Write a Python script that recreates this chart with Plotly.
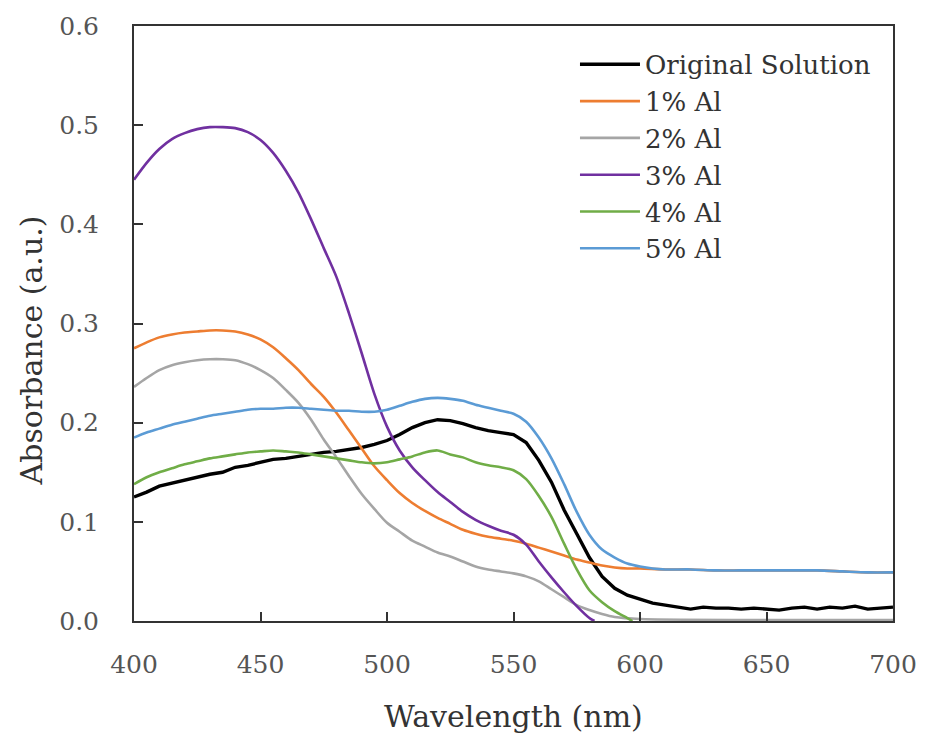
import plotly.graph_objects as go

# ---------------- data ----------------
wl_orig = [400, 405, 410, 415, 420, 425, 430, 435, 440, 445, 450, 455, 460, 465, 470, 475, 480,
           485, 490, 495, 500, 505, 510, 515, 520, 525, 530, 535, 540, 545, 550, 555, 560, 565,
           570, 575, 580, 585, 590, 595, 600, 605, 610, 615, 620, 625, 630, 635, 640, 645, 650,
           655, 660, 665, 670, 675, 680, 685, 690, 695, 700]
abs_orig = [0.125, 0.130, 0.136, 0.139, 0.142, 0.145, 0.148, 0.150, 0.155, 0.157, 0.160, 0.163,
            0.164, 0.166, 0.168, 0.170, 0.171, 0.173, 0.175, 0.178, 0.182, 0.188, 0.195, 0.200,
            0.203, 0.202, 0.199, 0.195, 0.192, 0.190, 0.188, 0.180, 0.162, 0.140, 0.112, 0.088,
            0.064, 0.045, 0.033, 0.026, 0.022, 0.018, 0.016, 0.014, 0.012, 0.014, 0.013, 0.013,
            0.012, 0.013, 0.012, 0.011, 0.013, 0.014, 0.012, 0.014, 0.013, 0.015, 0.012, 0.013,
            0.014]

wl_1 = [400, 405, 410, 415, 420, 425, 430, 435, 440, 445, 450, 455, 460, 465, 470, 475, 480, 485,
        490, 495, 500, 505, 510, 515, 520, 525, 530, 535, 540, 545, 550, 555, 560, 565, 570, 575,
        580, 585, 590, 595, 600, 610, 620, 630, 640, 650, 660, 670, 680, 690, 700]
abs_1 = [0.275, 0.281, 0.286, 0.289, 0.291, 0.292, 0.293, 0.293, 0.292, 0.289, 0.284, 0.276,
         0.265, 0.253, 0.239, 0.226, 0.210, 0.192, 0.174, 0.156, 0.142, 0.129, 0.119, 0.111,
         0.104, 0.098, 0.092, 0.088, 0.085, 0.083, 0.081, 0.078, 0.074, 0.070, 0.066, 0.062,
         0.059, 0.056, 0.054, 0.053, 0.053, 0.052, 0.052, 0.051, 0.051, 0.051, 0.051, 0.051,
         0.050, 0.049, 0.049]

wl_2 = [400, 405, 410, 415, 420, 425, 430, 435, 440, 445, 450, 455, 460, 465, 470, 475, 480, 485,
        490, 495, 500, 505, 510, 515, 520, 525, 530, 535, 540, 545, 550, 555, 560, 565, 570, 575,
        580, 585, 590, 600, 650, 700]
abs_2 = [0.236, 0.245, 0.253, 0.258, 0.261, 0.263, 0.264, 0.264, 0.263, 0.259, 0.253, 0.245,
         0.233, 0.220, 0.203, 0.183, 0.165, 0.146, 0.128, 0.113, 0.099, 0.090, 0.081, 0.075,
         0.069, 0.065, 0.060, 0.055, 0.052, 0.050, 0.048, 0.045, 0.040, 0.032, 0.024, 0.016,
         0.011, 0.007, 0.004, 0.002, 0.001, 0.001]

wl_3 = [400, 405, 410, 415, 420, 425, 430, 435, 440, 445, 450, 455, 460, 465, 470, 475, 480, 485,
        490, 495, 500, 505, 510, 515, 520, 525, 530, 535, 540, 545, 550, 555, 560, 565, 570, 575,
        580, 582]
abs_3 = [0.445, 0.462, 0.476, 0.486, 0.492, 0.496, 0.498, 0.498, 0.497, 0.493, 0.485, 0.472,
         0.454, 0.432, 0.405, 0.376, 0.347, 0.310, 0.270, 0.229, 0.196, 0.172, 0.155, 0.142,
         0.130, 0.120, 0.110, 0.102, 0.096, 0.091, 0.087, 0.077, 0.060, 0.044, 0.029, 0.015,
         0.003, 0.0]

wl_4 = [400, 405, 410, 415, 420, 425, 430, 435, 440, 445, 450, 455, 460, 465, 470, 475, 480, 485,
        490, 495, 500, 505, 510, 515, 520, 525, 530, 535, 540, 545, 550, 555, 560, 565, 570, 575,
        580, 585, 590, 595, 597]
abs_4 = [0.138, 0.145, 0.150, 0.154, 0.158, 0.161, 0.164, 0.166, 0.168, 0.170, 0.171, 0.172,
         0.171, 0.170, 0.168, 0.166, 0.164, 0.162, 0.160, 0.159, 0.160, 0.163, 0.166, 0.170,
         0.172, 0.168, 0.165, 0.160, 0.157, 0.155, 0.152, 0.143, 0.126, 0.105, 0.078, 0.052,
         0.031, 0.019, 0.010, 0.003, 0.0]

wl_5 = [400, 405, 410, 415, 420, 425, 430, 435, 440, 445, 450, 455, 460, 465, 470, 475, 480, 485,
        490, 495, 500, 505, 510, 515, 520, 525, 530, 535, 540, 545, 550, 555, 560, 565, 570, 575,
        580, 585, 590, 595, 600, 605, 610, 620, 630, 640, 650, 660, 670, 680, 690, 700]
abs_5 = [0.185, 0.190, 0.194, 0.198, 0.201, 0.204, 0.207, 0.209, 0.211, 0.213, 0.214, 0.214,
         0.215, 0.215, 0.214, 0.213, 0.212, 0.212, 0.211, 0.211, 0.213, 0.217, 0.221, 0.224,
         0.225, 0.224, 0.222, 0.218, 0.215, 0.212, 0.209, 0.201, 0.185, 0.164, 0.138, 0.110,
         0.087, 0.072, 0.064, 0.058, 0.055, 0.053, 0.052, 0.052, 0.051, 0.051, 0.051, 0.051,
         0.051, 0.050, 0.049, 0.049]

series = [
    ("Original Solution", wl_orig, abs_orig, "#000000", 3.4, "linear"),
    ("1% Al", wl_1, abs_1, "#ED7D31", 2.6, "spline"),
    ("2% Al", wl_2, abs_2, "#A5A5A5", 2.6, "spline"),
    ("3% Al", wl_3, abs_3, "#7030A0", 2.6, "spline"),
    ("4% Al", wl_4, abs_4, "#70AD47", 2.6, "spline"),
    ("5% Al", wl_5, abs_5, "#5B9BD5", 2.6, "spline"),
]

x_ticks = [400, 450, 500, 550, 600, 650, 700]
y_ticks = [0.0, 0.1, 0.2, 0.3, 0.4, 0.5, 0.6]
x_tick_text = ["400", "450", "500", "550", "600", "650", "700"]
y_tick_text = ["0.0", "0.1", "0.2", "0.3", "0.4", "0.5", "0.6"]

FONT = "DejaVu Serif"

fig = go.Figure()
for i, (name, x, y, c, w, shape) in enumerate(series):
    fig.add_trace(go.Scatter(
        x=x, y=y, mode="lines", name=name,
        line=dict(color=c, width=w, shape=shape, smoothing=0.8 if shape == "spline" else None),
        legendgroup=str(i), legendrank=i + 1,
    ))

fig.update_layout(
    width=929, height=746,
    margin=dict(l=134, r=30, t=22, b=125),
    paper_bgcolor="white", plot_bgcolor="white",
    font=dict(family=FONT, color="#333333"),
    showlegend=True,
    legend=dict(
        x=0.581, y=0.975, xanchor="left", yanchor="top",
        bgcolor="rgba(0,0,0,0)", font=dict(family=FONT, size=26, color="#333333"),
        tracegroupgap=0, itemwidth=60,
    ),
    xaxis=dict(
        range=[400, 700], tickvals=x_ticks, ticktext=x_tick_text,
        ticks="inside", ticklen=9, tickwidth=1.6, tickcolor="#333333",
        showline=True, linewidth=2, linecolor="#333333", mirror=True,
        showgrid=False, zeroline=False,
        tickfont=dict(family=FONT, size=25, color="#555555"),
        ticklabelstandoff=20,
    ),
    yaxis=dict(
        range=[0, 0.6], tickvals=y_ticks, ticktext=y_tick_text,
        ticks="inside", ticklen=9, tickwidth=1.6, tickcolor="#333333",
        showline=True, linewidth=2, linecolor="#333333", mirror=True,
        showgrid=False, zeroline=False,
        tickfont=dict(family=FONT, size=25, color="#555555"),
        ticklabelstandoff=28,
    ),
    annotations=[
        dict(text="Wavelength (nm)", xref="paper", yref="paper", x=0.5, y=-0.160,
             xanchor="center", yanchor="middle", showarrow=False,
             font=dict(family=FONT, size=30, color="#333333")),
        dict(text="Absorbance (a.u.)", xref="paper", yref="paper", x=-0.135, y=0.454,
             xanchor="center", yanchor="middle", textangle=-90, showarrow=False,
             font=dict(family=FONT, size=30, color="#333333")),
    ],
)

fig.write_html("out.html")
